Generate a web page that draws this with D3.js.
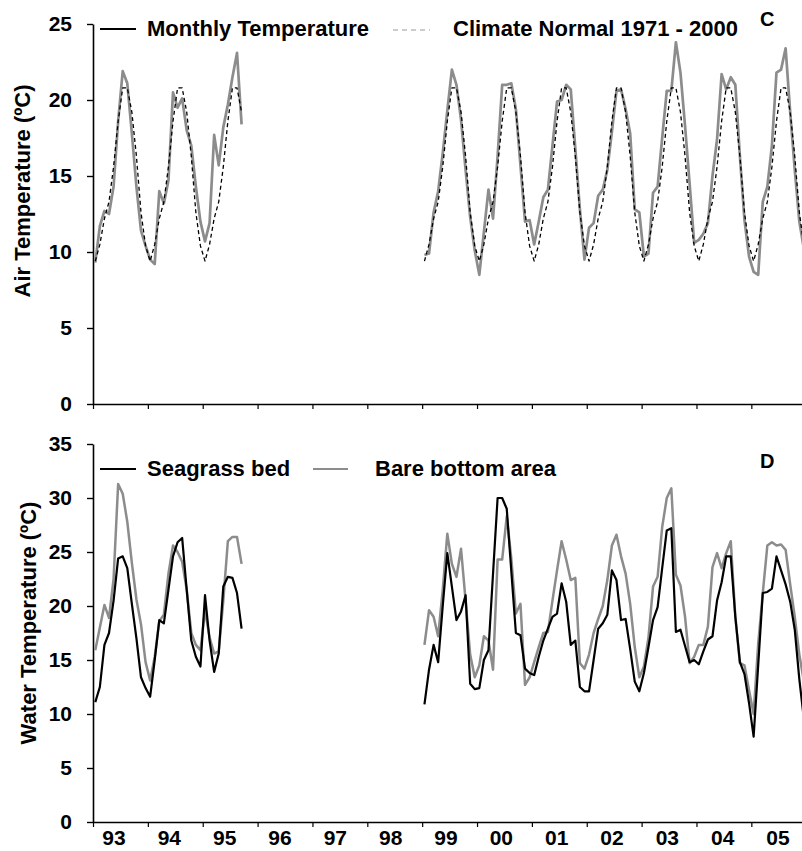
<!DOCTYPE html>
<html>
<head>
<meta charset="utf-8">
<script src="https://cdn.jsdelivr.net/npm/d3@7"></script>
<style>
  html, body { margin: 0; padding: 0; background: #fff; }
  svg { display: block; }
  text { font-family: "Liberation Sans", Arial, sans-serif; font-weight: bold; fill: #000; }
</style>
</head>
<body>
<svg id="chart" width="802" height="851"></svg>
<script>
// ---------- DATA ----------
const yearLabels = ["93","94","95","96","97","98","99","00","01","02","03","04","05"];
const firstYear = 1993;

// Panel C : monthly air temperature (ºC), segments start in January of the given year
const airStart1 = 1993;
const air1 = [
  9.3, 11.7, 12.7, 12.5, 14.3, 18.6, 21.9, 21.1, 17.8, 14.3, 11.4, 10.4,
  9.5, 9.2, 14.0, 13.2, 14.7, 20.5, 19.5, 20.1, 18.0, 17.0, 14.3, 12.0,
  10.7, 11.9, 17.7, 15.7, 18.2, 19.7, 21.5, 23.1, 18.4
];
const airStart2 = 1999;
const air2 = [
  9.8, 9.9, 12.6, 14.0, 16.5, 19.3, 22.0, 21.0, 18.7, 15.4, 12.3, 10.1,
  8.5, 11.3, 14.1, 12.2, 16.3, 21.0, 21.0, 21.1, 19.4, 15.7, 12.0, 12.1,
  10.5, 12.0, 13.6, 14.1, 17.0, 19.9, 20.0, 21.0, 20.7, 16.8, 12.8, 9.5,
  11.6, 11.9, 13.7, 14.1, 15.4, 17.9, 20.6, 20.7, 19.4, 17.8, 12.8, 12.6,
  9.7, 9.9, 13.9, 14.3, 17.5, 20.6, 20.6, 23.8, 21.8, 18.3, 14.5, 10.6,
  10.8, 11.2, 11.9, 15.0, 17.4, 21.7, 20.7, 21.5, 21.0, 16.3, 12.1, 9.7,
  8.7, 8.5, 13.3, 14.3, 17.0, 21.8, 22.0, 23.4, 19.2, 15.4, 12.0, 10.2
];
// Climate normal 1971-2000, Jan..Dec
const climateNormal = [9.4, 10.5, 12.2, 13.3, 15.6, 18.6, 20.8, 20.8, 19.2, 16.3, 12.6, 10.4];

// Panel D : water temperature (ºC)
const waterStart1 = 1993;
const seagrass1 = [
  11.1, 12.5, 16.4, 17.5, 20.5, 24.4, 24.6, 23.5, 20.2, 17.0, 13.4, 12.4,
  11.6, 15.0, 18.7, 18.4, 21.5, 24.6, 25.9, 26.3, 21.5, 16.8, 15.3, 14.4,
  21.0, 16.8, 13.9, 15.6, 21.8, 22.7, 22.6, 21.2, 17.9
];
const bare1 = [
  15.9, 18.0, 20.1, 18.9, 22.5, 31.3, 30.4, 27.8, 24.0, 20.6, 18.3, 14.8,
  13.1, 15.3, 18.6, 19.2, 23.0, 25.6, 25.0, 24.1, 21.5, 17.5, 16.4, 15.9,
  19.6, 17.1, 15.6, 15.8, 20.5, 26.0, 26.4, 26.4, 23.9
];
const waterStart2 = 1999;
const seagrass2 = [
  10.9, 14.1, 16.4, 14.8, 20.0, 24.9, 21.8, 18.7, 19.5, 21.0, 12.8, 12.3,
  12.4, 15.0, 15.9, 23.0, 30.0, 30.0, 29.0, 23.2, 17.5, 17.3, 14.2, 13.8,
  13.6, 15.3, 16.8, 17.9, 19.0, 19.3, 22.1, 20.4, 16.4, 16.8, 12.5, 12.1,
  12.1, 15.0, 17.9, 18.4, 19.2, 23.3, 22.4, 18.7, 18.8, 16.0, 13.0, 12.1,
  13.8, 16.2, 18.7, 19.9, 23.5, 27.0, 27.2, 17.6, 17.8, 16.3, 14.8, 15.0,
  14.6, 15.8, 16.9, 17.2, 20.5, 22.2, 24.6, 24.6, 19.0, 14.8, 13.7, 11.0,
  7.9, 14.5, 21.2, 21.3, 21.6, 24.6, 23.3, 22.0, 20.4, 17.8, 13.2, 9.5
];
const bare2 = [
  16.4, 19.6, 19.0, 17.2, 21.5, 26.7, 23.9, 22.7, 25.3, 20.5, 15.5, 13.4,
  14.5, 17.2, 16.8, 14.1, 24.3, 24.3, 28.3, 24.4, 19.3, 20.2, 12.7, 13.4,
  14.8, 16.2, 17.5, 17.6, 20.5, 23.3, 26.0, 24.3, 22.4, 22.6, 14.7, 14.2,
  15.5, 17.5, 18.8, 20.0, 22.4, 25.6, 26.6, 24.6, 23.0, 20.2, 16.2, 13.4,
  14.4, 17.1, 21.8, 22.7, 27.3, 30.0, 30.9, 22.9, 21.9, 19.0, 14.7, 15.3,
  16.4, 16.4, 18.1, 23.6, 24.9, 23.5, 24.9, 26.0, 19.0, 14.7, 14.5, 12.2,
  10.0, 16.5, 21.2, 25.6, 25.9, 25.6, 25.7, 25.2, 22.0, 19.0, 15.5, 13.0
];

const airTicks = [0, 5, 10, 15, 20, 25];
const waterTicks = [0, 5, 10, 15, 20, 25, 30, 35];

// ---------- HELPERS ----------
const toPoints = (startYear, arr) => arr.map((v, k) => ({ m: (startYear - firstYear) * 12 + k, v }));
const normalPoints = (startYear, arr) => arr.map((_, k) => ({ m: (startYear - firstYear) * 12 + k, v: climateNormal[k % 12] }));

// ---------- SCALES ----------
const svg = d3.select("#chart");
const nMonths = yearLabels.length * 12;
const x = d3.scaleLinear().domain([0, nMonths]).range([93, 806.2]);
const xLab = d3.scalePoint().domain(yearLabels).range([114, 778]);
const yTop = d3.scaleLinear().domain([0, 25]).range([404, 24]);
const yBot = d3.scaleLinear().domain([0, 35]).range([822, 444]);
const monthTicks = d3.range(0, nMonths + 1, 12);

function drawAxes(y, ticks, bottomY, showLabels) {
  const ga = svg.append("g").attr("transform", "translate(93,0)")
    .call(d3.axisLeft(y).tickValues(ticks).tickSize(6).tickPadding(15).tickSizeOuter(0));
  ga.select(".domain").attr("stroke", "#000").attr("stroke-width", 1.6);
  ga.selectAll(".tick line").attr("stroke", "#000").attr("stroke-width", 1.4);
  ga.selectAll(".tick text").style("font-size", "21px").style("font-weight", "bold")
    .style("font-family", '"Liberation Sans", Arial, sans-serif').attr("fill", "#000");

  const gx = svg.append("g").attr("transform", `translate(0,${bottomY})`)
    .call(d3.axisBottom(x).tickValues(monthTicks).tickSize(5).tickSizeOuter(0).tickFormat(""));
  gx.select(".domain").attr("stroke", "#000").attr("stroke-width", 1.6);
  gx.selectAll(".tick line").attr("stroke", "#000").attr("stroke-width", 1.2);

  if (showLabels) {
    svg.append("g").selectAll("text").data(yearLabels).join("text")
      .attr("x", d => xLab(d)).attr("y", 845)
      .attr("text-anchor", "middle").style("font-size", "21px").text(d => d);
  }
}

function drawLine(y, pts, color, width, dash) {
  const line = d3.line().x(d => x(d.m + 0.5)).y(d => y(d.v));
  const p = svg.append("path").datum(pts).attr("d", line)
    .attr("fill", "none").attr("stroke", color).attr("stroke-width", width)
    .attr("stroke-linejoin", "round");
  if (dash) p.attr("stroke-dasharray", dash);
}

// ---------- PANEL C ----------
drawAxes(yTop, airTicks, 404, false);
drawLine(yTop, toPoints(airStart1, air1), "#8c8c8c", 2.7);
drawLine(yTop, toPoints(airStart2, air2), "#8c8c8c", 2.7);
drawLine(yTop, normalPoints(airStart1, air1), "#000", 1.3, "4,3");
drawLine(yTop, normalPoints(airStart2, air2), "#000", 1.3, "4,3");

svg.append("text").attr("transform", "translate(30,191) rotate(-90)")
  .attr("text-anchor", "middle").style("font-size", "22px").text("Air Temperature (ºC)");

svg.append("line").attr("x1", 100).attr("x2", 136).attr("y1", 29).attr("y2", 29)
  .attr("stroke", "#000").attr("stroke-width", 2);
svg.append("text").attr("x", 147).attr("y", 36).style("font-size", "22px").text("Monthly Temperature");
svg.append("line").attr("x1", 393).attr("x2", 430).attr("y1", 30).attr("y2", 30)
  .attr("stroke", "#999").attr("stroke-width", 1.2).attr("stroke-dasharray", "5,4");
svg.append("text").attr("x", 453).attr("y", 36).style("font-size", "22px").text("Climate Normal 1971 - 2000");
svg.append("text").attr("x", 760).attr("y", 26).style("font-size", "20px").text("C");

// ---------- PANEL D ----------
drawAxes(yBot, waterTicks, 822, true);
drawLine(yBot, toPoints(waterStart1, bare1), "#8c8c8c", 2.5);
drawLine(yBot, toPoints(waterStart2, bare2), "#8c8c8c", 2.5);
drawLine(yBot, toPoints(waterStart1, seagrass1), "#000", 2.2);
drawLine(yBot, toPoints(waterStart2, seagrass2), "#000", 2.2);

svg.append("text").attr("transform", "translate(36,623) rotate(-90)")
  .attr("text-anchor", "middle").style("font-size", "22px").text("Water Temperature (ºC)");

svg.append("line").attr("x1", 100).attr("x2", 136).attr("y1", 469).attr("y2", 469)
  .attr("stroke", "#000").attr("stroke-width", 2);
svg.append("text").attr("x", 147).attr("y", 476).style("font-size", "22px").text("Seagrass bed");
svg.append("line").attr("x1", 313).attr("x2", 348).attr("y1", 469).attr("y2", 469)
  .attr("stroke", "#8c8c8c").attr("stroke-width", 2);
svg.append("text").attr("x", 375).attr("y", 476).style("font-size", "22px").text("Bare bottom area");
svg.append("text").attr("x", 760).attr("y", 468).style("font-size", "20px").text("D");
</script>
</body>
</html>
